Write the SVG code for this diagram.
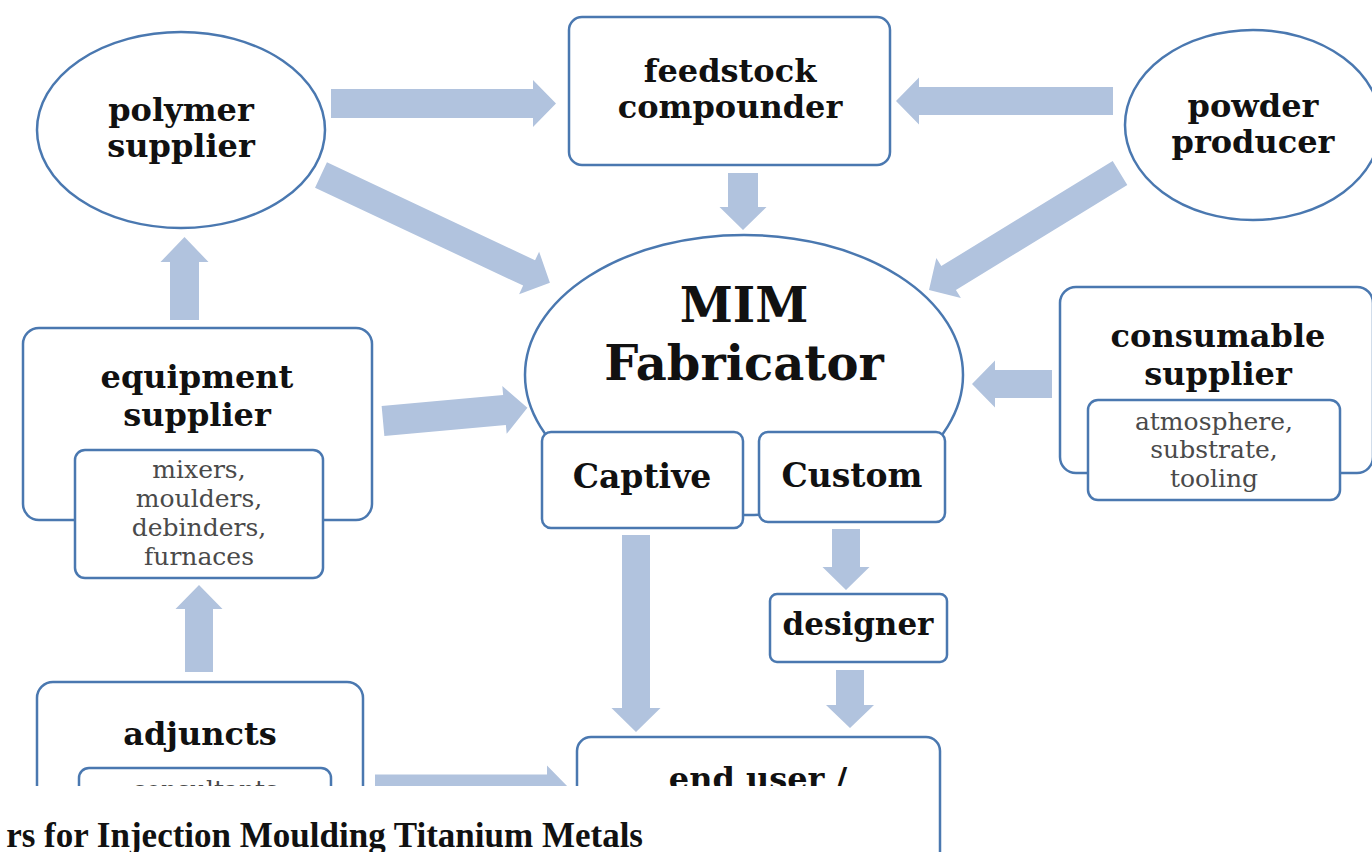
<svg xmlns="http://www.w3.org/2000/svg" width="1372" height="852" viewBox="0 0 1372 852">
  <style>
    .shape { fill: #ffffff; stroke: #4a78b0; stroke-width: 2.5; }
    .title { font-family: "DejaVu Serif", "Liberation Serif", serif; font-weight: bold; font-size: 32px; fill: #111; text-anchor: middle; }
    .big { font-size: 48px; }
    .note { font-family: "DejaVu Serif", "Liberation Serif", serif; font-size: 25px; fill: #4a4a4a; text-anchor: middle; }
    .flow { fill: #b1c3de; }
    .caption { font-family: "Liberation Serif", "Times New Roman", serif; font-weight: bold; font-size: 35px; fill: #111; text-anchor: end; }
  </style>

  <rect width="1372" height="852" fill="#ffffff"/>

  <!-- nodes -->
  <g id="polymer-supplier">
    <ellipse class="shape" cx="181" cy="130" rx="144" ry="98"/>
    <text class="title" x="181" y="121">polymer</text>
    <text class="title" x="181" y="157">supplier</text>
  </g>

  <g id="feedstock-compounder">
    <rect class="shape" x="569" y="17" width="321" height="148" rx="13"/>
    <text class="title" x="730" y="82">feedstock</text>
    <text class="title" x="730" y="118">compounder</text>
  </g>

  <g id="powder-producer">
    <ellipse class="shape" cx="1253" cy="125" rx="128" ry="95"/>
    <text class="title" x="1253" y="117">powder</text>
    <text class="title" x="1253" y="153">producer</text>
  </g>

  <g id="mim-fabricator">
    <ellipse class="shape" cx="744" cy="375" rx="219" ry="140"/>
    <text class="title big" x="744" y="322">MIM</text>
    <text class="title big" x="744" y="380">Fabricator</text>
  </g>

  <g id="captive">
    <rect class="shape" x="542" y="432" width="201" height="96" rx="9"/>
    <text class="title" x="642" y="488" style="font-size:33px">Captive</text>
  </g>

  <g id="custom">
    <rect class="shape" x="759" y="432" width="186" height="90" rx="9"/>
    <text class="title" x="852" y="487" style="font-size:33px">Custom</text>
  </g>

  <g id="designer">
    <rect class="shape" x="770" y="594" width="177" height="68" rx="7"/>
    <text class="title" x="858" y="635" style="font-size:31px">designer</text>
  </g>

  <g id="equipment-supplier">
    <rect class="shape" x="23" y="328" width="349" height="192" rx="16"/>
    <text class="title" x="197" y="388">equipment</text>
    <text class="title" x="197" y="426">supplier</text>
    <rect class="shape" x="75" y="450" width="248" height="128" rx="10"/>
    <text class="note" x="199" y="478">mixers,</text>
    <text class="note" x="199" y="507">moulders,</text>
    <text class="note" x="199" y="536">debinders,</text>
    <text class="note" x="199" y="565">furnaces</text>
  </g>

  <g id="consumable-supplier">
    <rect class="shape" x="1060" y="287" width="313" height="186" rx="16"/>
    <text class="title" x="1218" y="347">consumable</text>
    <text class="title" x="1218" y="385">supplier</text>
    <rect class="shape" x="1088" y="400" width="252" height="100" rx="10"/>
    <text class="note" x="1214" y="430">atmosphere,</text>
    <text class="note" x="1214" y="458">substrate,</text>
    <text class="note" x="1214" y="487">tooling</text>
  </g>

  <g id="adjuncts">
    <rect class="shape" x="37" y="682" width="326" height="200" rx="16"/>
    <text class="title" x="200" y="745">adjuncts</text>
    <rect class="shape" x="79" y="768" width="252" height="80" rx="10"/>
    <text class="note" x="205" y="798">consultants</text>
  </g>

  <g id="end-user">
    <rect class="shape" x="577" y="737" width="363" height="200" rx="14"/>
    <text class="title" x="758" y="790">end user /</text>
  </g>

  <!-- connectors: block arrows, drawn pointing along +x from the tail -->
  <g id="connectors">
    <polygon class="flow" transform="translate(331,103.5)" points="0,-14.5 202,-14.5 202,-23.5 225,0 202,23.5 202,14.5 0,14.5"/>
    <polygon class="flow" transform="translate(321,175) rotate(25.2)" points="0,-14 230,-14 230,-23.5 253,0 230,23.5 230,14 0,14"/>
    <polygon class="flow" transform="translate(743,173) rotate(90)" points="0,-15 34,-15 34,-23.5 57,0 34,23.5 34,15 0,15"/>
    <polygon class="flow" transform="translate(1113,101) rotate(180)" points="0,-14 194,-14 194,-23.5 217,0 194,23.5 194,14 0,14"/>
    <polygon class="flow" transform="translate(1120,173) rotate(148.5)" points="0,-14 201,-14 201,-23.5 224,0 201,23.5 201,14 0,14"/>
    <polygon class="flow" transform="translate(1052,384) rotate(180)" points="0,-14 57,-14 57,-23.5 80,0 57,23.5 57,14 0,14"/>
    <polygon class="flow" transform="translate(383,421) rotate(-5.2)" points="0,-15 122,-15 122,-24 145,0 122,24 122,15 0,15"/>
    <polygon class="flow" transform="translate(184.5,320) rotate(-90)" points="0,-14.5 58,-14.5 58,-24 83,0 58,24 58,14.5 0,14.5"/>
    <polygon class="flow" transform="translate(199,672) rotate(-90)" points="0,-14 63,-14 63,-23.5 87,0 63,23.5 63,14 0,14"/>
    <polygon class="flow" transform="translate(636,535) rotate(90)" points="0,-14 173,-14 173,-24.5 197,0 173,24.5 173,14 0,14"/>
    <polygon class="flow" transform="translate(846,529) rotate(90)" points="0,-14 38,-14 38,-23.5 61,0 38,23.5 38,14 0,14"/>
    <polygon class="flow" transform="translate(850,670) rotate(90)" points="0,-14 35,-14 35,-24 58,0 35,24 35,14 0,14"/>
    <polygon class="flow" transform="translate(375,789)" points="0,-14.5 172,-14.5 172,-23.5 195,0 172,23.5 172,14.5 0,14.5"/>
  </g>

  <!-- caption strip laid over the lower edge -->
  <rect x="0" y="786" width="937" height="66" fill="#ffffff"/>
  <text class="caption" x="643" y="847">rs for Injection Moulding Titanium Metals</text>
</svg>
